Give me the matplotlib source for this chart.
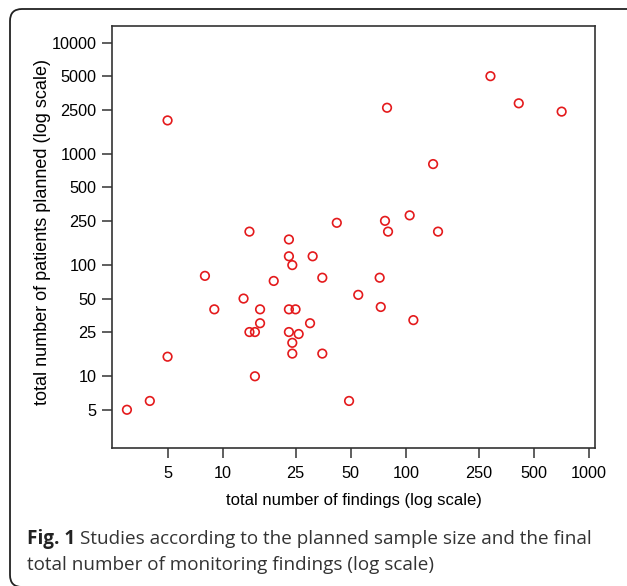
import matplotlib
matplotlib.use('Agg')
import matplotlib.pyplot as plt
from matplotlib.patches import FancyBboxPatch

# total number of findings (x) and planned patients (y)
findings = [3, 4, 5, 8, 9, 13, 14, 14, 15, 15, 16, 16, 19, 23, 23, 24, 23, 25,
            23, 26, 24, 24, 30, 31, 35, 35, 42, 49, 55, 5,
            290, 79, 414, 710, 141, 77, 105, 80, 150, 72, 73, 110]
patients = [5, 6, 15, 80, 40, 50, 200, 25, 25, 10, 40, 30, 72, 170, 120, 100, 40, 40,
            25, 24, 20, 16, 30, 120, 77, 16, 240, 6, 54, 2000,
            5000, 2600, 2850, 2400, 810, 250, 280, 200, 200, 77, 42, 32]

xticks = [5, 10, 25, 50, 100, 250, 500, 1000]
yticks = [5, 10, 25, 50, 100, 250, 500, 1000, 2500, 5000, 10000]

W, H = 627, 586
fig = plt.figure(figsize=(W / 100, H / 100), dpi=100)
fig.patch.set_facecolor('white')

ax = fig.add_axes([112 / W, 1 - 448 / H, (595 - 112) / W, (448 - 26) / H])
ax.scatter(findings, patients, s=38, facecolors='none', edgecolors='#e41a1c',
           linewidths=1.2, zorder=3)
ax.set_xscale('log')
ax.set_yscale('log')
ax.set_xlim(2.486, 1080)
ax.set_ylim(2.265, 14130)

ax.set_xticks(xticks)
ax.set_xticklabels([str(t) for t in xticks])
ax.set_yticks(yticks)
ax.set_yticklabels([str(t) for t in yticks])
ax.minorticks_off()

tick_font = 'Liberation Sans'
ax.tick_params(axis='both', direction='out', length=7.2, width=1.1, color='#333333',
               labelsize=11.7)
ax.tick_params(axis='x', pad=6)
ax.tick_params(axis='y', pad=3.8)
for lab in ax.get_xticklabels() + ax.get_yticklabels():
    lab.set_family(tick_font)
for sp in ax.spines.values():
    sp.set_color('#333333')
    sp.set_linewidth(1.2)

ax.set_xlabel('total number of findings (log scale)', family=tick_font, fontsize=12)
ax.set_ylabel('total number of patients planned (log scale)', family=tick_font,
              fontsize=13)
ax.xaxis.label.set_va('center')
ax.yaxis.label.set_va('center')
ax.xaxis.set_label_coords(0.5, (448 - 500) / (448 - 26))
ax.yaxis.set_label_coords((43 - 112) / (595 - 112), (448 - 232) / (448 - 26))

# rounded frame around the figure (clipped at right and bottom)
frame = FancyBboxPatch((10, -1), 660, 578, boxstyle='round,pad=0,rounding_size=12',
                       transform=None, fill=False, edgecolor='#222222', linewidth=1.3)
fig.patches.append(frame)

# caption
cap_font = 'Open Sans'
t1 = fig.text(27 / W, 1 - 544 / H, 'Fig. 1', family=cap_font, fontsize=13.6,
              fontweight='bold', color='#222222', va='baseline')
fig.canvas.draw()
bb = t1.get_window_extent()
fig.text((bb.x1 + 5) / W, 1 - 544 / H,
         'Studies according to the planned sample size and the final',
         family=cap_font, fontsize=13.6, color='#333333', va='baseline')
fig.text(27 / W, 1 - 570 / H, 'total number of monitoring findings (log scale)',
         family=cap_font, fontsize=13.6, color='#333333', va='baseline')

fig.savefig('out.png', dpi=100)
